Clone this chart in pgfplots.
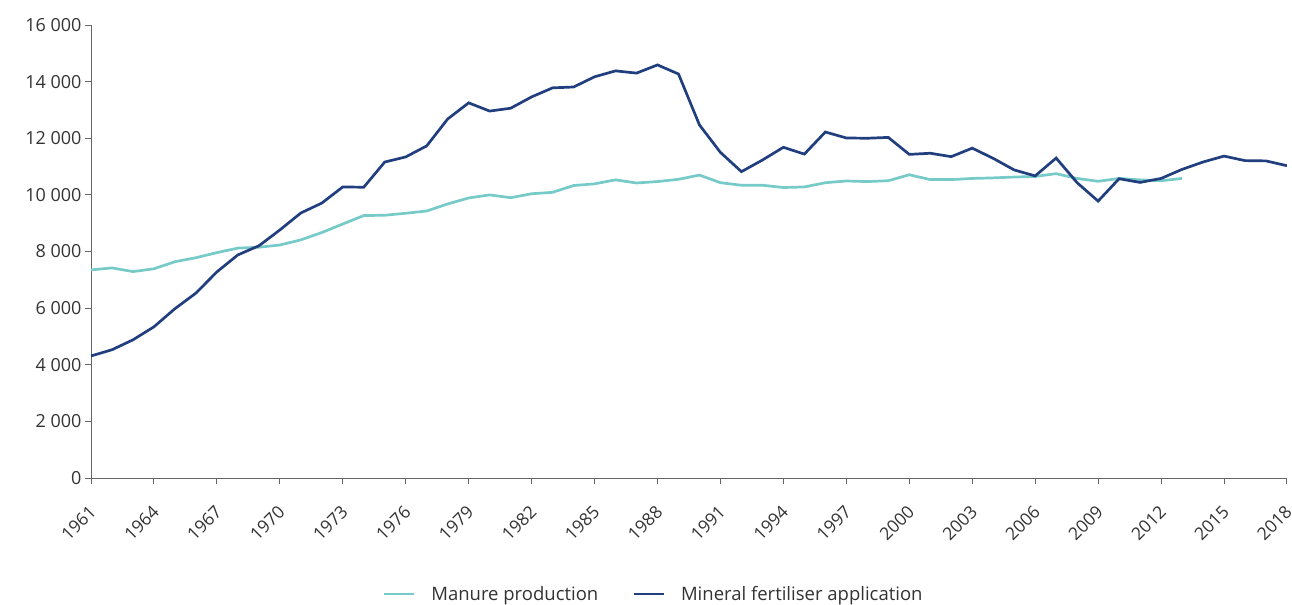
\documentclass[border=0pt]{standalone}
\usepackage{fontspec}
\setmainfont{Open Sans}
\usepackage{pgfplots}
\pgfplotsset{compat=1.18}
\definecolor{manure}{HTML}{76CBC9}
\definecolor{mineral}{HTML}{213F7E}
\definecolor{axisgray}{HTML}{666666}
\definecolor{txt}{HTML}{333333}

\pgfplotstableread{
year value
1961 7350
1962 7420
1963 7290
1964 7390
1965 7640
1966 7780
1967 7960
1968 8120
1969 8150
1970 8230
1971 8410
1972 8670
1973 8970
1974 9270
1975 9280
1976 9350
1977 9430
1978 9680
1979 9890
1980 10000
1981 9900
1982 10040
1983 10090
1984 10330
1985 10390
1986 10530
1987 10420
1988 10470
1989 10550
1990 10700
1991 10430
1992 10340
1993 10340
1994 10260
1995 10280
1996 10430
1997 10490
1998 10470
1999 10500
2000 10710
2001 10540
2002 10540
2003 10580
2004 10600
2005 10630
2006 10650
2007 10750
2008 10580
2009 10480
2010 10580
2011 10530
2012 10500
2013 10580
}\manure

\pgfplotstableread{
year value
1961 4310
1962 4530
1963 4880
1964 5340
1965 5980
1966 6530
1967 7280
1968 7880
1969 8200
1970 8760
1971 9360
1972 9710
1973 10280
1974 10270
1975 11160
1976 11340
1977 11730
1978 12680
1979 13250
1980 12960
1981 13060
1982 13460
1983 13780
1984 13810
1985 14170
1986 14380
1987 14300
1988 14590
1989 14270
1990 12470
1991 11500
1992 10820
1993 11230
1994 11680
1995 11440
1996 12220
1997 12010
1998 12000
1999 12030
2000 11430
2001 11470
2002 11350
2003 11650
2004 11290
2005 10880
2006 10670
2007 11300
2008 10430
2009 9780
2010 10570
2011 10440
2012 10580
2013 10900
2014 11160
2015 11370
2016 11210
2017 11200
2018 11030
}\mineral

\begin{document}
\begin{tikzpicture}[font=\fontsize{18bp}{21bp}\selectfont]
\path[use as bounding box] (-91bp,-127bp) rectangle (1201bp,478bp);
\begin{axis}[
    scale only axis, width=1196bp, height=453bp,
    xmin=1961, xmax=2018, ymin=0, ymax=16000,
    xtick={1961,1964,...,2018},
    ytick={0,2000,...,16000},
    scaled y ticks=false,
    axis x line*=bottom, axis y line*=left,
    axis line style={axisgray, line width=0.9bp, -},
    tick style={axisgray, line width=0.9bp},
    tick align=outside, major tick length=6bp,
    /pgf/number format/assume math mode=true,
    xticklabel style={/pgf/number format/1000 sep={}, rotate=45, anchor=north east,
        inner sep=2bp, xshift=-14bp, yshift=-10bp, text=txt, font=\fontsize{17.5bp}{21bp}\selectfont},
    yticklabel style={/pgf/number format/fixed, /pgf/number format/1000 sep={\ },
        text=txt, font=\fontsize{18bp}{21bp}\selectfont},
    legend columns=2,
    legend style={at={(0.4725,-0.256)}, anchor=center, draw=none, fill=none,
        font=\fontsize{18.5bp}{21bp}\selectfont, text=txt,
        nodes={inner xsep=7bp},
        /tikz/every even column/.append style={column sep=27bp}},
    legend image code/.code={\draw[#1] (0bp,0bp) -- (30bp,0bp); \path (39bp,0bp);},
]
\addplot[manure, line width=2.7bp] table[x=year, y=value] {\manure};
\addlegendentry{Manure production}
\addplot[mineral, line width=2.7bp] table[x=year, y=value] {\mineral};
\addlegendentry{Mineral fertiliser application}
\end{axis}
\end{tikzpicture}
\end{document}
